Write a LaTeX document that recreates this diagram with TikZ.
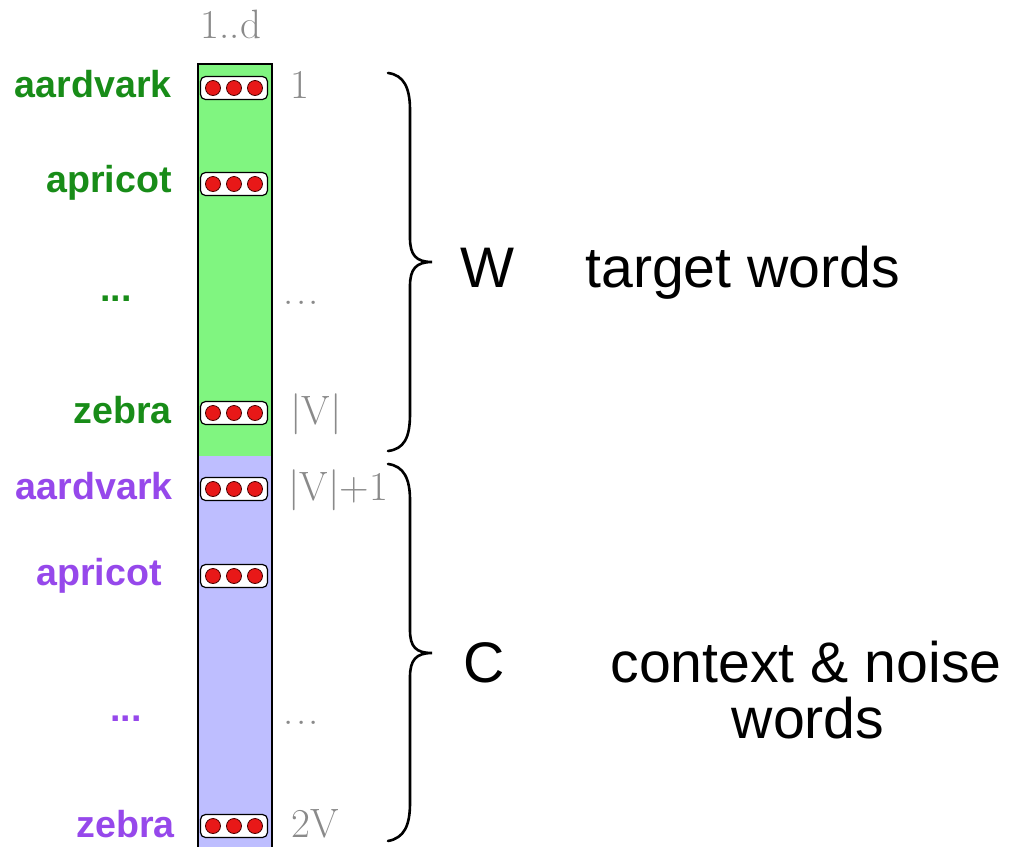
\documentclass[tikz,border=0pt]{standalone}
\usepackage{fontspec}
\newfontfamily\arialfont{Liberation Sans}
\definecolor{colgreen}{RGB}{128,245,128}
\definecolor{colblue}{RGB}{190,190,255}
\definecolor{txtgreen}{RGB}{24,140,24}
\definecolor{txtpurple}{RGB}{150,72,235}
\definecolor{dotred}{RGB}{232,24,24}
\definecolor{numgray}{RGB}{138,138,138}
\tikzset{
  wordlbl/.style={anchor=base east, inner sep=0pt, font=\arialfont\bfseries\fontsize{18.8}{20}\selectfont},
  numlbl/.style={anchor=base west, inner sep=0pt, text=numgray, font=\fontsize{20.5}{22}\selectfont},
  bigtxt/.style={anchor=base, inner sep=0pt, font=\arialfont\fontsize{28.6}{34}\selectfont},
  vecbox/.style={draw=black, line width=0.6pt, fill=white, rounded corners=2.5pt, minimum width=33.5pt, minimum height=11.5pt, inner sep=0pt},
  reddot/.style={circle, draw=black!70!red, line width=0.4pt, fill=dotred, minimum size=7.5pt, inner sep=0pt},
  bracepath/.style={line width=1.3pt, line cap=round}
}
\newcommand{\vecrow}[2]{%
  \node[vecbox] (#1) at (234,#2) {};
  \node[reddot] (#1a) at (213,#2) {};
  \node[reddot] (#1b) at (234,#2) {};
  \node[reddot] (#1c) at (255,#2) {};
}
\newcommand{\gdots}{.\hspace{0.06em}.\hspace{0.06em}.}
\begin{document}
\begin{tikzpicture}[x=0.5pt,y=-0.5pt]
\useasboundingbox (0,0) rectangle (1009,847);
% column
\fill[colgreen] (198,64) rectangle (272,456);
\fill[colblue] (198,456) rectangle (272,847);
\draw[line width=0.9pt] (198,847) -- (198,64) -- (272,64) -- (272,847);
% rows
\vecrow{wa}{88}
\vecrow{wb}{184}
\vecrow{wz}{413}
\vecrow{ca}{489}
\vecrow{cb}{576}
\vecrow{cz}{826}
% left words
\node[wordlbl, text=txtgreen] (lwa) at (172,97) {aardvark};
\node[wordlbl, text=txtgreen] (lwb) at (172,192) {apricot};
\node[wordlbl, text=txtgreen] (lwd) at (132,301) {...};
\node[wordlbl, text=txtgreen] (lwz) at (172,423) {zebra};
\node[wordlbl, text=txtpurple] (lca) at (173,499) {aardvark};
\node[wordlbl, text=txtpurple] (lcb) at (162,585) {apricot};
\node[wordlbl, text=txtpurple] (lcd) at (142,721) {...};
\node[wordlbl, text=txtpurple] (lcz) at (175,837) {zebra};
% numbers
\node[anchor=base, inner sep=0pt, text=numgray, font=\fontsize{20.5}{22}\selectfont] (dimlbl) at (231,38) {1..d};
\node[numlbl] (n1) at (290,98) {1};
\node[numlbl] (nd) at (283,304) {\gdots};
\node[numlbl] (nv) at (290,424) {|V|};
\node[numlbl] (nv1) at (288,500) {|V|+1};
\node[numlbl] (ndd) at (283,724) {\gdots};
\node[numlbl] (n2v) at (291,837) {2V};
% braces
\draw[bracepath] (388,73) .. controls (404,75) and (410,88) .. (410,110) -- (410,238)
  .. controls (410,255) and (416,262) .. (432,262)
  .. controls (416,262) and (410,269) .. (410,286) -- (410,414)
  .. controls (410,438) and (404,449) .. (388,451);
\draw[bracepath] (388,464) .. controls (404,466) and (410,479) .. (410,500) -- (410,630)
  .. controls (410,647) and (416,653) .. (432,653)
  .. controls (416,653) and (410,660) .. (410,677) -- (410,803)
  .. controls (410,826) and (404,838) .. (388,841);
% right labels
\node[bigtxt] (W) at (487,287) {W};
\node[bigtxt, anchor=base west] (tw) at (585,287) {target words};
\node[bigtxt] (C) at (484,682) {C};
\node[bigtxt, anchor=base west] (cn) at (610,682) {context \& noise};
\node[bigtxt] (cw) at (808,738) {words};
\end{tikzpicture}
\end{document}
